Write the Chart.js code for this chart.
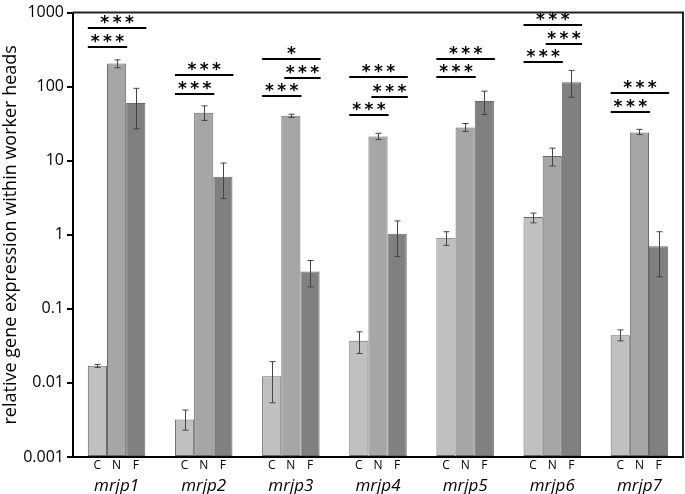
<!DOCTYPE html>
<html>
<head>
<meta charset="utf-8">
<script src="https://cdn.jsdelivr.net/npm/chart.js@4/dist/chart.umd.min.js"></script>
<style>
  html, body { margin: 0; padding: 0; background: #fff; }
  #wrap { width: 685px; height: 494px; }
</style>
</head>
<body>
<div id="wrap"><canvas id="geneChart" width="685" height="494"></canvas></div>
<script>
const genes = ['mrjp1', 'mrjp2', 'mrjp3', 'mrjp4', 'mrjp5', 'mrjp6', 'mrjp7'];
const castes = ['C', 'N', 'F'];
const tickValues = [0.001, 0.01, 0.1, 1, 10, 100, 1000];

const valuesC = [0.017, 0.0032, 0.0123, 0.037, 0.91, 1.74, 0.044];
const valuesN = [205, 44.5, 40.6, 21.3, 28, 11.6, 24.1];
const valuesF = [60, 6.1, 0.32, 1.03, 64, 115, 0.70];

const errLowC = [0.0162, 0.0023, 0.0054, 0.025, 0.72, 1.45, 0.037];
const errHighC = [0.0178, 0.0043, 0.0194, 0.049, 1.1, 1.96, 0.052];
const errLowN = [180, 35, 38.5, 19.3, 24.9, 8.5, 22.7];
const errHighN = [230, 55, 42.5, 23.5, 31.8, 14.8, 26.5];
const errLowF = [27, 3.1, 0.198, 0.51, 42, 72, 0.27];
const errHighF = [95, 9.3, 0.45, 1.54, 87, 166, 1.1];

// significance brackets: gene index, first bar, second bar, label, height (data units)
const sigGene = [0, 0, 1, 1, 2, 2, 2, 3, 3, 3, 4, 4, 5, 5, 5, 6, 6];
const sigFrom = [0, 0, 0, 0, 0, 1, 0, 0, 1, 0, 0, 0, 0, 1, 0, 0, 0];
const sigTo   = [2, 1, 2, 1, 2, 2, 1, 2, 2, 1, 2, 1, 2, 2, 1, 2, 1];
const sigText = ['***', '***', '***', '***', '*', '***', '***', '***', '***', '***', '***', '***', '***', '***', '***', '***', '***'];
const sigLevel = [617, 345, 142, 80, 239, 130, 75, 134, 73, 42, 239, 134, 676, 378, 218, 82, 46];

const errors = [[errLowC, errHighC], [errLowN, errHighN], [errLowF, errHighF]];

const extrasPlugin = {
  id: 'extras',
  afterDatasetsDraw(chart) {
    const ctx = chart.ctx;
    const y = chart.scales.y;
    const area = chart.chartArea;

    // error bars
    ctx.save();
    ctx.strokeStyle = '#444';
    ctx.lineWidth = 1;
    errors.forEach((pair, di) => {
      const meta = chart.getDatasetMeta(di);
      meta.data.forEach((bar, i) => {
        const yLo = y.getPixelForValue(pair[0][i]);
        const yHi = y.getPixelForValue(pair[1][i]);
        const x = Math.round(bar.x) + 0.5;
        ctx.beginPath();
        ctx.moveTo(x, yLo); ctx.lineTo(x, yHi);
        ctx.moveTo(x - 3, yLo); ctx.lineTo(x + 3, yLo);
        ctx.moveTo(x - 3, yHi); ctx.lineTo(x + 3, yHi);
        ctx.stroke();
      });
    });
    ctx.restore();

    // significance brackets
    ctx.save();
    ctx.strokeStyle = '#000';
    ctx.fillStyle = '#000';
    ctx.lineWidth = 2;
    ctx.font = 'bold 17px "DejaVu Sans"';
    ctx.textAlign = 'center';
    ctx.textBaseline = 'middle';
    sigGene.forEach((g, k) => {
      const b1 = chart.getDatasetMeta(sigFrom[k]).data[g];
      const b2 = chart.getDatasetMeta(sigTo[k]).data[g];
      const x1 = b1.x - b1.width / 2 + (sigFrom[k] > 0 ? 3 : 0);
      const x2 = b2.x + b2.width / 2 + 1;
      const yy = Math.round(y.getPixelForValue(sigLevel[k]));
      ctx.beginPath();
      ctx.moveTo(x1, yy); ctx.lineTo(x2, yy);
      ctx.stroke();
      ctx.fillText(sigText[k].split('').join('\u2009'), (x1 + x2) / 2, yy - 4);
    });
    ctx.restore();

    // frame top and right
    ctx.save();
    ctx.strokeStyle = '#222';
    ctx.lineWidth = 2;
    ctx.beginPath();
    ctx.moveTo(area.left, area.top); ctx.lineTo(area.right, area.top);
    ctx.lineTo(area.right, area.bottom);
    ctx.stroke();
    ctx.restore();

    // C / N / F labels under each bar
    ctx.save();
    ctx.fillStyle = '#000';
    ctx.font = '12px "Open Sans"';
    ctx.textAlign = 'center';
    ctx.textBaseline = 'top';
    castes.forEach((c, di) => {
      chart.getDatasetMeta(di).data.forEach(bar => {
        ctx.fillText(c, bar.x, area.bottom + 3);
      });
    });
    ctx.restore();
  }
};

const barStyle = {
  borderColor: '#6a6a6a',
  borderWidth: 1,
  borderSkipped: false,
  base: 0.001,
  categoryPercentage: 0.66,
  barPercentage: 1.0
};

new Chart(document.getElementById('geneChart'), {
  type: 'bar',
  data: {
    labels: genes,
    datasets: [
      Object.assign({ label: 'C', data: valuesC, backgroundColor: '#c0c0c0' }, barStyle),
      Object.assign({ label: 'N', data: valuesN, backgroundColor: '#a6a6a6' }, barStyle),
      Object.assign({ label: 'F', data: valuesF, backgroundColor: '#808080' }, barStyle)
    ]
  },
  options: {
    responsive: false,
    animation: false,
    layout: { padding: { top: 5, right: 2, left: 0, bottom: 0 } },
    plugins: { legend: { display: false }, tooltip: { enabled: false } },
    scales: {
      x: {
        grid: { display: false },
        border: { color: '#000', width: 2 },
        ticks: {
          color: '#000',
          font: { family: '"Open Sans"', size: 17, style: 'italic' },
          padding: 11
        },
        afterFit(scale) { scale.height = 37; }
      },
      y: {
        type: 'logarithmic',
        min: 0.001,
        max: 1000,
        afterBuildTicks(scale) {
          scale.ticks = tickValues.map(v => ({ value: v }));
        },
        afterFit(scale) { scale.width = 73; },
        grid: { drawOnChartArea: false, drawTicks: true, tickLength: 6, color: '#000', lineWidth: 2 },
        border: { color: '#000', width: 2 },
        ticks: {
          color: '#000',
          font: { family: '"Open Sans"', size: 16 },
          padding: 3,
          callback: v => String(v)
        },
        title: {
          display: true,
          text: 'relative gene expression within worker heads',
          color: '#000',
          font: { family: '"Open Sans"', size: 18 },
          padding: 0
        }
      }
    }
  },
  plugins: [extrasPlugin]
});
</script>
</body>
</html>
